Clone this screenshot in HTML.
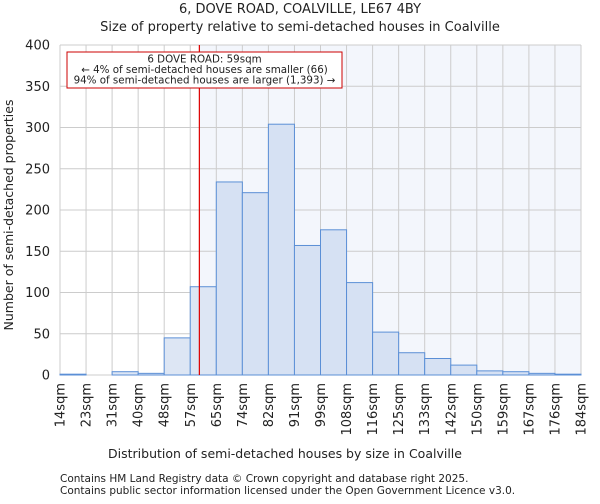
<!DOCTYPE html>
<html><head><meta charset="utf-8"><style>
body{margin:0;background:#fff;font-family:"DejaVu Sans","Liberation Sans",sans-serif;}
svg text{font-family:"DejaVu Sans","Liberation Sans",sans-serif;fill:#222;}
</style></head><body>
<svg id="chart" width="600" height="500">
<text x="300" y="13" text-anchor="middle" font-size="13">6, DOVE ROAD, COALVILLE, LE67 4BY</text>
<text x="300" y="31" text-anchor="middle" font-size="13">Size of property relative to semi-detached houses in Coalville</text>
<g id="plot"></g>
<text x="285" y="458" text-anchor="middle" font-size="12.5">Distribution of semi-detached houses by size in Coalville</text>
<text transform="translate(13,215) rotate(-90)" text-anchor="middle" font-size="12.5">Number of semi-detached properties</text>
<text x="60" y="482" font-size="10.5" fill="#444">Contains HM Land Registry data © Crown copyright and database right 2025.</text>
<text x="60" y="494" font-size="10.5" fill="#444">Contains public sector information licensed under the Open Government Licence v3.0.</text>
</svg>
<script>
const binLabels=["14sqm","23sqm","31sqm","40sqm","48sqm","57sqm","65sqm","74sqm","82sqm","91sqm","99sqm","108sqm","116sqm","125sqm","133sqm","142sqm","150sqm","159sqm","167sqm","176sqm","184sqm"];
const counts=[1,0,4,2,45,107,234,221,304,157,176,112,52,27,20,12,5,4,2,1];
const yTicks=[0,50,100,150,200,250,300,350,400];
const markerBin=5.35;
const ns="http://www.w3.org/2000/svg";
const L=60,R=581,T=45,B=375,yMax=400;
const bw=(R-L)/counts.length;
const x=i=>L+i*bw;
const y=v=>B-(v/yMax)*(B-T);
const g=document.getElementById('plot');
function mk(t,a){const e=document.createElementNS(ns,t);for(const k in a)e.setAttribute(k,a[k]);g.appendChild(e);return e;}
const mx=x(markerBin);
let bg=mk('rect',{x:mx,y:T,width:R-mx,height:B-T,fill:'#f3f6fc'});


for(let i=0;i<=counts.length;i++){const l=mk('line',{x1:x(i),x2:x(i),y1:T,y2:B,stroke:'#cccccc','stroke-width':1});

}
yTicks.forEach(v=>{const l=mk('line',{x1:L,x2:R,y1:y(v),y2:y(v),stroke:'#cccccc','stroke-width':1});


const t=mk('text',{x:L-10,y:y(v)+4.5,'text-anchor':'end','font-size':13});t.textContent=v;

});
counts.forEach((c,i)=>{const left=x(i)<mx;const r=mk('rect',{x:x(i),y:y(c),width:bw,height:B-y(c),fill:left?'#dde6f4':'#d6e1f3',stroke:'#5b8fd6','stroke-width':1});

});
binLabels.forEach((s,i)=>{const t=mk('text',{transform:`translate(${x(i)+4.5},${B+8}) rotate(-90)`,'text-anchor':'end','font-size':13});t.textContent=s;

});
const ml=mk('line',{x1:mx,x2:mx,y1:T,y2:B,stroke:'#dd0000','stroke-width':1.2});


const box=mk('rect',{x:67,y:52,width:275,height:36,fill:'#fff',stroke:'#cc0000','stroke-width':1});


["6 DOVE ROAD: 59sqm","← 4% of semi-detached houses are smaller (66)","94% of semi-detached houses are larger (1,393) →"].forEach((s,i)=>{const t=mk('text',{x:204.5,y:62.5+i*10.5,'text-anchor':'middle','font-size':10.3});t.textContent=s;

});
</script>
</body></html>
